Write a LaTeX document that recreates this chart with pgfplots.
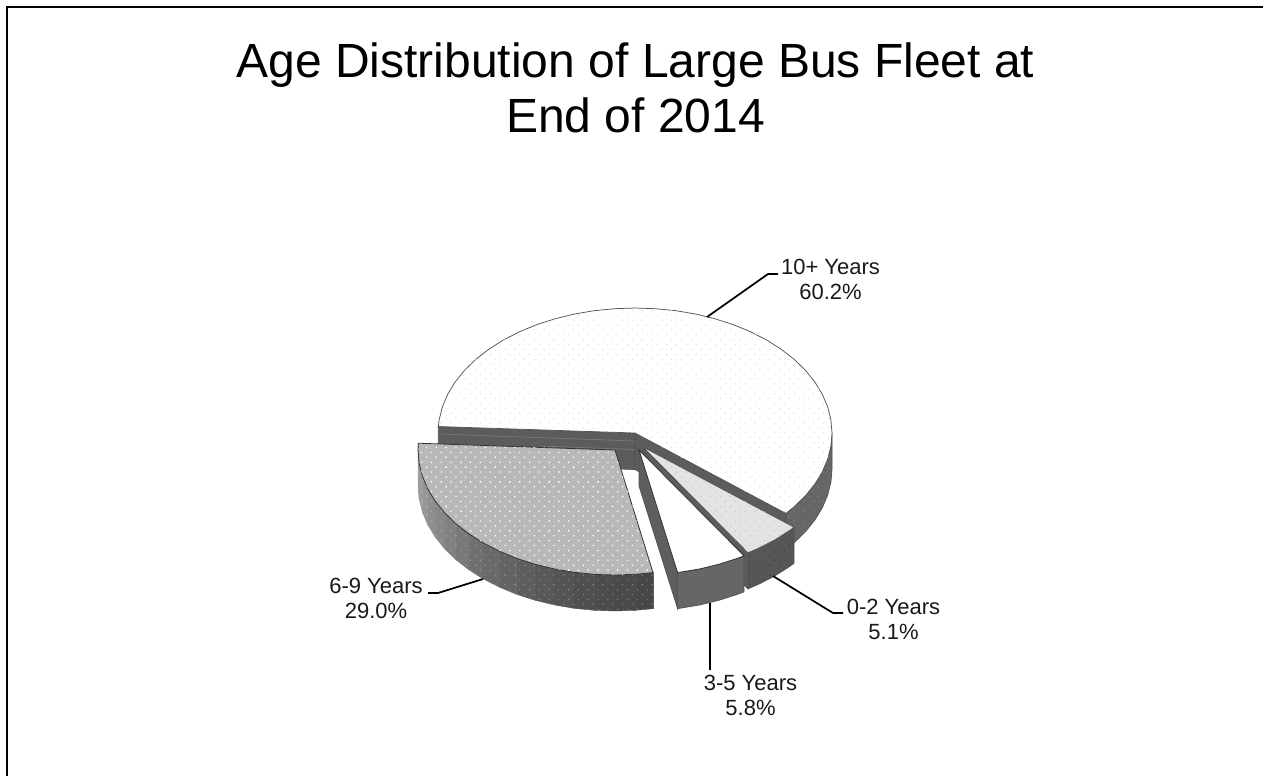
\documentclass[border=0pt]{standalone}
\usepackage{fontspec}
\setmainfont{Liberation Sans}
\usepackage{pgfplots}
\pgfplotsset{compat=1.18}
\usetikzlibrary{patterns.meta}
\tikzset{
  edge/.style={draw=black!68,line width=0.55pt},
  seg/.style={fill=black!#1,draw=black!#1,line width=0.3pt},
  faintdots/.style={draw=none,pattern={Dots[angle=45,distance=5.2pt,radius=0.55pt]},pattern color=black!14},
  lightdots/.style={draw=none,pattern={Dots[angle=45,distance=5.2pt,radius=0.7pt]},pattern color=white},
  walldots/.style={draw=none,pattern={Dots[angle=45,distance=5.2pt,radius=0.6pt]},pattern color=white!60!black!50},
  sharedots/.style={draw=none,pattern={Dots[angle=45,distance=5.2pt,radius=0.6pt]},pattern color=black!21},
  darkdots/.style={draw=none,pattern={Dots[angle=45,distance=5.2pt,radius=0.6pt]},pattern color=black!75},
  leader/.style={draw=black,line width=1.3pt},
  lab/.style={anchor=base,text=black!90,font=\fontsize{16.5pt}{18pt}\selectfont},
  ttl/.style={anchor=base,text=black,font=\fontsize{36pt}{38pt}\selectfont}
}
\begin{document}
\begin{tikzpicture}
\path[use as bounding box] (0,0) rectangle (947.25pt,582pt);
\begin{axis}[
  at={(0,0)},anchor=south west,
  scale only axis,width=947.25pt,height=582pt,
  xmin=0,xmax=1263,ymin=0,ymax=776,y dir=reverse,
  hide axis,no markers,
]
% page frame: left and top rules only
\addplot[draw=black,line width=1.5pt] coordinates {(7,776)(7,7)(1263,7)};

% --- 10+ Years: rim, inner faces, top ---
\addplot[fill=black!60,edge] coordinates {(832,433)(830.9,446.1)(827.7,459)(822.4,471.6)(815,483.8)(805.6,495.5)(794.4,506.5)(785.9,513.4)
  (785.9,549.4)(794.4,542.5)(805.6,531.5)(815,519.8)(822.4,507.6)(827.7,495)(830.9,482.1)(832,469)} --cycle;
\addplot[walldots,pattern color=black!50] coordinates {(832,433)(830.9,446.1)(827.7,459)(822.4,471.6)(815,483.8)(805.6,495.5)(794.4,506.5)(785.9,513.4)
  (785.9,549.4)(794.4,542.5)(805.6,531.5)(815,519.8)(822.4,507.6)(827.7,495)(830.9,482.1)(832,469)} --cycle;
\addplot[fill=black!64,edge] coordinates {(438.3,426.5)(635,433)(635,469.5)(438.3,463)} --cycle;
\addplot[draw=black!52,line width=0.5pt] coordinates {(438.3,434)(635,441)};
\addplot[draw=black!52,line width=0.5pt] coordinates {(540,446)(635,449.5)};
\addplot[fill=black!64,edge] coordinates {(635,433)(785.9,513.4)(785.9,549.4)(635,469.5)} --cycle;
\addplot[fill=white,edge] coordinates {(635,433)(438.3,426.5)(439.1,419.9)(442.3,407)(447.6,394.4)(455,382.2)(464.4,370.5)(475.6,359.5)(488.6,349.4)
  (503.2,340.1)(519.2,331.9)(536.5,324.7)(554.9,318.8)(574.1,314.1)(594,310.7)(614.4,308.7)(635,308)(655.6,308.7)(676,310.7)(695.9,314.1)
  (715.1,318.8)(733.5,324.7)(750.8,331.9)(766.8,340.1)(781.4,349.4)(794.4,359.5)(805.6,370.5)(815,382.2)(822.4,394.4)(827.7,407)(830.9,419.9)
  (832,433)(830.9,446.1)(827.7,459)(822.4,471.6)(815,483.8)(805.6,495.5)(794.4,506.5)(785.9,513.4)} --cycle;
\addplot[faintdots] coordinates {(635,433)(438.3,426.5)(439.1,419.9)(442.3,407)(447.6,394.4)(455,382.2)(464.4,370.5)(475.6,359.5)(488.6,349.4)
  (503.2,340.1)(519.2,331.9)(536.5,324.7)(554.9,318.8)(574.1,314.1)(594,310.7)(614.4,308.7)(635,308)(655.6,308.7)(676,310.7)(695.9,314.1)
  (715.1,318.8)(733.5,324.7)(750.8,331.9)(766.8,340.1)(781.4,349.4)(794.4,359.5)(805.6,370.5)(815,382.2)(822.4,394.4)(827.7,407)(830.9,419.9)
  (832,433)(830.9,446.1)(827.7,459)(822.4,471.6)(815,483.8)(805.6,495.5)(794.4,506.5)(785.9,513.4)} --cycle;

% --- 6-9 Years: shaded rim, then top ---
\addplot[seg=72] coordinates {(653.6,572.6)(635.6,574.3)(635.6,610.3)(653.6,608.6)} --cycle;
\addplot[seg=71] coordinates {(635.6,574.3)(615,575)(615,611)(635.6,610.3)} --cycle;
\addplot[seg=70] coordinates {(615,575)(594.4,574.3)(594.4,610.3)(615,611)} --cycle;
\addplot[seg=69] coordinates {(594.4,574.3)(574,572.3)(574,608.3)(594.4,610.3)} --cycle;
\addplot[seg=67] coordinates {(574,572.3)(554.1,568.9)(554.1,604.9)(574,608.3)} --cycle;
\addplot[seg=65] coordinates {(554.1,568.9)(534.9,564.2)(534.9,600.2)(554.1,604.9)} --cycle;
\addplot[seg=63] coordinates {(534.9,564.2)(516.5,558.3)(516.5,594.3)(534.9,600.2)} --cycle;
\addplot[seg=61] coordinates {(516.5,558.3)(499.2,551.1)(499.2,587.1)(516.5,594.3)} --cycle;
\addplot[seg=59] coordinates {(499.2,551.1)(483.2,542.9)(483.2,578.9)(499.2,587.1)} --cycle;
\addplot[seg=56] coordinates {(483.2,542.9)(468.6,533.6)(468.6,569.6)(483.2,578.9)} --cycle;
\addplot[seg=53] coordinates {(468.6,533.6)(455.6,523.5)(455.6,559.5)(468.6,569.6)} --cycle;
\addplot[seg=50] coordinates {(455.6,523.5)(444.4,512.5)(444.4,548.5)(455.6,559.5)} --cycle;
\addplot[seg=47] coordinates {(444.4,512.5)(435,500.8)(435,536.8)(444.4,548.5)} --cycle;
\addplot[seg=44] coordinates {(435,500.8)(427.6,488.6)(427.6,524.6)(435,536.8)} --cycle;
\addplot[seg=41] coordinates {(427.6,488.6)(422.3,476)(422.3,512)(427.6,524.6)} --cycle;
\addplot[seg=39] coordinates {(422.3,476)(419.1,463.1)(419.1,499.1)(422.3,512)} --cycle;
\addplot[seg=38] coordinates {(419.1,463.1)(418,450)(418,486)(419.1,499.1)} --cycle;
\addplot[walldots,pattern color=white,opacity=0.3] coordinates {(653.6,572.6)(635.6,574.3)(615,575)(594.4,574.3)(574,572.3)(554.1,568.9)(534.9,564.2)(516.5,558.3)(499.2,551.1)(483.2,542.9)(468.6,533.6)(455.6,523.5)(444.4,512.5)(435,500.8)(427.6,488.6)(422.3,476)(419.1,463.1)(418,450)
  (418,486)(419.1,499.1)(422.3,512)(427.6,524.6)(435,536.8)(444.4,548.5)(455.6,559.5)(468.6,569.6)(483.2,578.9)(499.2,587.1)(516.5,594.3)(534.9,600.2)(554.1,604.9)(574,608.3)(594.4,610.3)(615,611)(635.6,610.3)(653.6,608.6)} --cycle;
\addplot[fill=black!28,draw=black!80,line width=0.6pt] coordinates {(615,450)(653,572.6)(635.6,574.3)(615,575)(594.4,574.3)(574,572.3)(554.1,568.9)(534.9,564.2)(516.5,558.3)(499.2,551.1)(483.2,542.9)(468.6,533.6)(455.6,523.5)(444.4,512.5)(435,500.8)(427.6,488.6)(422.3,476)(419.1,463.1)(418,450)(418.3,443.2)} --cycle;
\addplot[lightdots] coordinates {(615,450)(653,572.6)(635.6,574.3)(615,575)(594.4,574.3)(574,572.3)(554.1,568.9)(534.9,564.2)(516.5,558.3)(499.2,551.1)(483.2,542.9)(468.6,533.6)(455.6,523.5)(444.4,512.5)(435,500.8)(427.6,488.6)(422.3,476)(419.1,463.1)(418,450)(418.3,443.2)} --cycle;

% --- 0-2 Years: rim, side face, top ---
\addplot[fill=black!66,edge] coordinates {(794.1,527.2)(789.4,530.6)(774.8,539.9)(758.8,548.1)(748,552.8)(748,588.8)(758.8,584.1)(774.8,575.9)(789.4,566.6)(794.1,563.2)} --cycle;
\addplot[darkdots] coordinates {(794.1,527.2)(789.4,530.6)(774.8,539.9)(758.8,548.1)(748,552.8)(748,588.8)(758.8,584.1)(774.8,575.9)(789.4,566.6)(794.1,563.2)} --cycle;
\addplot[fill=black!64,edge] coordinates {(643,447)(748,552.8)(748,588.8)(643,483)} --cycle;
\addplot[fill=black!11,edge] coordinates {(643,447)(794.1,527.2)(789.4,530.6)(774.8,539.9)(758.8,548.1)(748,552.8)} --cycle;
\addplot[sharedots] coordinates {(643,447)(794.1,527.2)(789.4,530.6)(774.8,539.9)(758.8,548.1)(748,552.8)} --cycle;

% --- 3-5 Years: side face, rim, top ---
\addplot[fill=black!63,edge] coordinates {(639,450)(677.6,572.6)(677.6,608.6)(639,486)} --cycle;
\addplot[fill=black!60,edge] coordinates {(744,555.8)(737.5,558.3)(719.1,564.2)(699.9,568.9)(677.6,572.6)(677.6,608.6)(699.9,604.9)(719.1,600.2)(737.5,594.3)(744,591.8)} --cycle;
\addplot[fill=white,draw=black!80,line width=0.6pt] coordinates {(639,450)(744,555.8)(737.5,558.3)(719.1,564.2)(699.9,568.9)(677.6,572.6)} --cycle;

% --- callout leaders ---
\addplot[leader] coordinates {(707,317)(768,274)(778,274)};
\addplot[leader] coordinates {(483,579)(438,593)(428,593)};
\addplot[leader] coordinates {(773,576)(833,613)(843,613)};
\addplot[leader] coordinates {(710,603)(710,670)};

% --- callout labels ---
\node[lab] at (axis cs:830.5,274.5) {10+ Years};
\node[lab] at (axis cs:830.5,299.5) {60.2\%};
\node[lab] at (axis cs:376,593.5) {6-9 Years};
\node[lab] at (axis cs:376,618.5) {29.0\%};
\node[lab] at (axis cs:893.5,614.5) {0-2 Years};
\node[lab] at (axis cs:893.5,639.5) {5.1\%};
\node[lab] at (axis cs:750.5,690.5) {3-5 Years};
\node[lab] at (axis cs:750.5,715.5) {5.8\%};

% --- title ---
\node[ttl] at (axis cs:635.5,77) {Age Distribution of Large Bus Fleet at};
\node[ttl] at (axis cs:635.5,132) {End of 2014};
\end{axis}
\end{tikzpicture}
\end{document}
